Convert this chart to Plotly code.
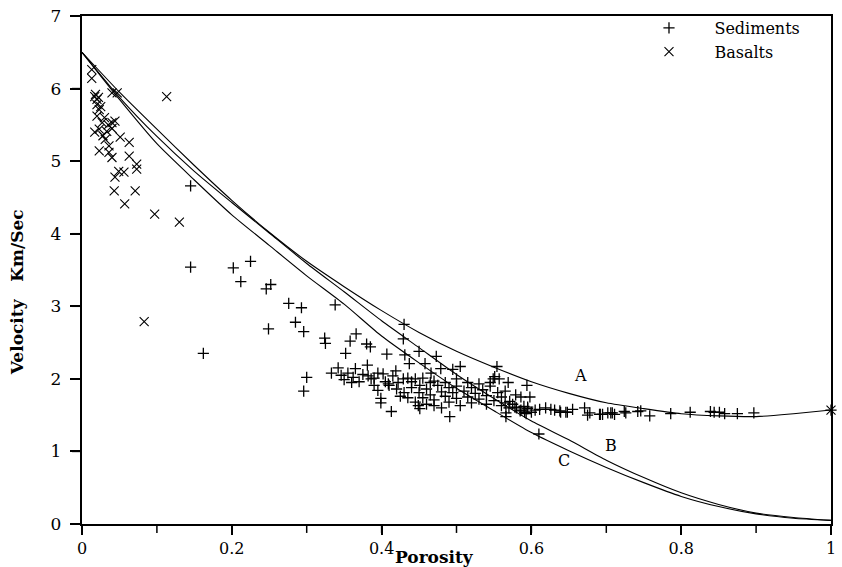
import plotly.graph_objects as go

# ---- model curves (porosity vs velocity) ----
curve_phi = [0, 0.05, 0.1, 0.15, 0.2, 0.25, 0.3, 0.35, 0.4, 0.45, 0.5,
             0.55, 0.6, 0.65, 0.7, 0.75, 0.8, 0.85, 0.9, 0.95, 1.0]
curve_A = [6.50, 5.95, 5.44, 4.94, 4.46, 4.02, 3.62, 3.27, 2.94, 2.64, 2.38,
           2.16, 1.96, 1.80, 1.67, 1.59, 1.52, 1.49, 1.48, 1.52, 1.57]
curve_B = [6.50, 5.88, 5.34, 4.86, 4.43, 4.01, 3.59, 3.20, 2.80, 2.43, 2.06,
           1.73, 1.42, 1.16, 0.88, 0.64, 0.43, 0.27, 0.15, 0.09, 0.05]
curve_C = [6.50, 5.85, 5.24, 4.74, 4.26, 3.84, 3.42, 3.03, 2.59, 2.22, 1.87,
           1.56, 1.26, 1.01, 0.78, 0.57, 0.38, 0.24, 0.14, 0.08, 0.05]

# ---- sediments (+) ----
sed_phi = [
    0.145, 0.145, 0.202, 0.225, 0.212, 0.252, 0.246, 0.276, 0.293, 0.338,
    0.249, 0.285, 0.296, 0.324, 0.325, 0.352, 0.162, 0.300, 0.296, 0.358,
    0.366, 0.380, 0.385, 0.407, 0.430, 0.429, 0.431, 0.450, 0.473, 0.437,
    0.458, 0.479, 0.495, 0.505, 0.554, 0.381,
    0.333, 0.342, 0.346, 0.362, 0.365, 0.382, 0.386, 0.395, 0.402, 0.399,
    0.399, 0.413, 0.409, 0.395, 0.419, 0.422, 0.429, 0.435, 0.445, 0.451,
    0.449, 0.451, 0.466, 0.465, 0.491, 0.551, 0.557, 0.569, 0.594, 0.579,
    0.586, 0.598, 0.565, 0.571, 0.566, 0.610, 0.549, 0.566, 0.591,
    0.44, 0.45, 0.455, 0.46, 0.465, 0.47, 0.475, 0.48, 0.485, 0.49,
    0.49, 0.495, 0.5, 0.5, 0.505, 0.51, 0.515, 0.52, 0.52, 0.525,
    0.53, 0.535, 0.54, 0.54, 0.545, 0.55, 0.555, 0.56, 0.56, 0.565,
    0.57, 0.575, 0.58, 0.585, 0.59, 0.595, 0.6, 0.47, 0.48, 0.46,
    0.43, 0.42, 0.41, 0.435, 0.445, 0.425, 0.39, 0.37, 0.36, 0.35,
    0.355, 0.375, 0.39, 0.405, 0.415, 0.44, 0.455, 0.47, 0.485, 0.5,
    0.515, 0.53, 0.545,
    0.595, 0.605, 0.611, 0.619, 0.626, 0.631, 0.638, 0.646, 0.655, 0.671,
    0.678, 0.675, 0.692, 0.702, 0.708, 0.711, 0.724, 0.742, 0.746, 0.758,
    0.578, 0.586, 0.593, 0.639, 0.648, 0.691, 0.695, 0.706, 0.726, 0.786,
    0.812, 0.839, 0.844, 0.851, 0.858, 0.875, 0.897, 1.0,
]
sed_vel = [
    4.66, 3.54, 3.53, 3.62, 3.34, 3.30, 3.24, 3.04, 2.98, 3.02,
    2.69, 2.78, 2.65, 2.56, 2.49, 2.35, 2.35, 2.02, 1.83, 2.52,
    2.62, 2.48, 2.44, 2.34, 2.75, 2.55, 2.33, 2.38, 2.31, 2.21,
    2.21, 2.14, 2.13, 2.17, 2.17, 2.19,
    2.08, 2.15, 2.05, 2.02, 2.14, 2.04, 2.00, 2.08, 2.07, 1.73,
    1.67, 1.55, 1.93, 1.84, 2.11, 1.95, 2.00, 2.01, 2.00, 1.91,
    1.63, 1.59, 2.08, 1.95, 1.48, 2.03, 2.00, 1.95, 1.91, 1.78,
    1.75, 1.75, 1.83, 1.69, 1.48, 1.24, 2.00, 1.53, 1.54,
    1.88, 1.81, 1.74, 1.86, 1.78, 1.71, 1.91, 1.82, 1.76, 1.68,
    1.88, 1.81, 1.73, 1.90, 1.63, 1.83, 1.75, 1.67, 1.88, 1.80,
    1.72, 1.85, 1.65, 1.77, 1.90, 1.70, 1.81, 1.63, 1.75, 1.67,
    1.60, 1.65, 1.60, 1.56, 1.62, 1.59, 1.54, 1.63, 1.60, 1.65,
    1.81, 1.86, 1.91, 1.74, 1.68, 1.76, 1.91, 1.96, 1.95, 1.99,
    2.08, 2.06, 2.01, 1.96, 2.04, 1.96, 2.01, 1.97, 1.95, 2.00,
    1.95, 1.93, 1.95,
    1.61, 1.57, 1.58, 1.60, 1.58, 1.57, 1.56, 1.54, 1.58, 1.60,
    1.53, 1.50, 1.51, 1.53, 1.53, 1.51, 1.55, 1.55, 1.56, 1.49,
    1.61, 1.57, 1.52, 1.54, 1.54, 1.51, 1.51, 1.53, 1.53, 1.52,
    1.54, 1.55, 1.54, 1.54, 1.52, 1.52, 1.53, 1.57,
]

# ---- basalts (x) ----
bas_phi = [0.013, 0.013, 0.017, 0.020, 0.023, 0.040, 0.047, 0.020, 0.027, 0.040,
           0.044, 0.023, 0.033, 0.017, 0.031, 0.051, 0.063, 0.023, 0.036, 0.036,
           0.040, 0.063, 0.073, 0.073, 0.049, 0.056, 0.044, 0.043, 0.071, 0.113,
           0.057, 0.097, 0.130, 0.083,
           0.018, 0.022, 0.020, 0.025, 0.030, 0.035, 0.028, 0.040, 1.0]
bas_vel = [6.26, 6.14, 5.89, 5.85, 5.71, 5.94, 5.94, 5.62, 5.53, 5.53,
           5.55, 5.44, 5.41, 5.40, 5.30, 5.33, 5.26, 5.14, 5.21, 5.12,
           5.05, 5.07, 4.96, 4.89, 4.86, 4.85, 4.78, 4.59, 4.59, 5.89,
           4.41, 4.27, 4.16, 2.79,
           5.92, 5.88, 5.78, 5.75, 5.60, 5.50, 5.35, 5.45, 1.57]

x_ticks = [0, 0.2, 0.4, 0.6, 0.8, 1]
x_tick_text = ["0", "0.2", "0.4", "0.6", "0.8", "1"]
x_minor_ticks = [0.1, 0.3, 0.5, 0.7, 0.9]
y_ticks = [0, 1, 2, 3, 4, 5, 6, 7]
y_tick_text = ["0", "1", "2", "3", "4", "5", "6", "7"]

curve_labels = ["A", "B", "C"]
label_phi = [0.666, 0.706, 0.644]
label_vel = [2.05, 1.08, 0.87]

FONT = "DejaVu Serif"
PAD = "\u00a0" * 5
NB = "\u00a0"
X_MAX, Y_MAX = 1.0, 7.0
ML, MR, MT, MB = 82, 6, 12, 43
PW, PH = 842 - ML - MR, 567 - MT - MB
XTICK_LEN, YTICK_LEN = 9, 10

fig = go.Figure()
for ys in (curve_A, curve_B, curve_C):
    fig.add_trace(go.Scatter(x=curve_phi, y=ys, mode="lines",
                             line=dict(color="black", width=1.1, shape="spline", smoothing=0.6),
                             showlegend=False, hoverinfo="skip"))

fig.add_trace(go.Scatter(x=sed_phi, y=sed_vel, mode="markers", name=PAD + "Sediments",
                         marker=dict(symbol="cross-thin", size=8, color="black",
                                     line=dict(color="black", width=1.3)),
                         cliponaxis=False))
fig.add_trace(go.Scatter(x=bas_phi, y=bas_vel, mode="markers", name=PAD + "Basalts",
                         marker=dict(symbol="x-thin", size=9, color="black",
                                     line=dict(color="black", width=1.1)),
                         cliponaxis=False))

for t, xv, yv in zip(curve_labels, label_phi, label_vel):
    fig.add_annotation(x=xv, y=yv, text=t, showarrow=False,
                       font=dict(family=FONT, size=16, color="black"))

fig.add_annotation(xref="paper", yref="paper", x=(437 - ML) / PW, y=-(557 - 524) / PH,
                   text="<b>Porosity</b>", showarrow=False, yanchor="middle",
                   font=dict(family=FONT, size=17, color="black"))
fig.add_annotation(xref="paper", yref="paper", x=-(ML - 16) / PW, y=(524 - 290) / PH,
                   text="<b>Velocity" + NB * 3 + "Km/Sec</b>", showarrow=False, textangle=-90,
                   xanchor="center", yanchor="middle",
                   font=dict(family=FONT, size=17, color="black"))

# explicit outward tick marks (x ticks incl. minor, y ticks), positioned from the tick arrays
tick_line = dict(color="black", width=1.5)
for tv in x_ticks + x_minor_ticks:
    fig.add_shape(type="line", xref="paper", yref="paper",
                  x0=tv / X_MAX, x1=tv / X_MAX, y0=0, y1=-XTICK_LEN / PH, line=tick_line)
for tv in y_ticks:
    fig.add_shape(type="line", xref="paper", yref="paper",
                  x0=-YTICK_LEN / PW, x1=0, y0=tv / Y_MAX, y1=tv / Y_MAX, line=tick_line)

fig.update_layout(
    width=842, height=567,
    margin=dict(l=ML, r=MR, t=MT, b=MB),
    paper_bgcolor="white", plot_bgcolor="white",
    font=dict(family=FONT, size=16, color="black"),
    legend=dict(x=0.757, y=1.01, xanchor="left", yanchor="top",
                bgcolor="rgba(0,0,0,0)", font=dict(family=FONT, size=16),
                itemwidth=30, tracegroupgap=0),
    xaxis=dict(range=[0, X_MAX], tickmode="array", tickvals=x_ticks, ticktext=x_tick_text,
               ticks="outside", ticklen=XTICK_LEN, tickwidth=1.5, tickcolor="black",
               showline=True, linecolor="black", linewidth=1.5, mirror=True,
               showgrid=False, zeroline=False,
               tickfont=dict(family=FONT, size=16)),
    yaxis=dict(range=[0, Y_MAX], tickmode="array", tickvals=y_ticks,
               ticktext=[t + NB for t in y_tick_text],
               ticks="outside", ticklen=YTICK_LEN, tickwidth=1.5, tickcolor="black",
               showline=True, linecolor="black", linewidth=1.5, mirror=True,
               showgrid=False, zeroline=False,
               tickfont=dict(family=FONT, size=17)),
)

fig.write_html("out.html")
